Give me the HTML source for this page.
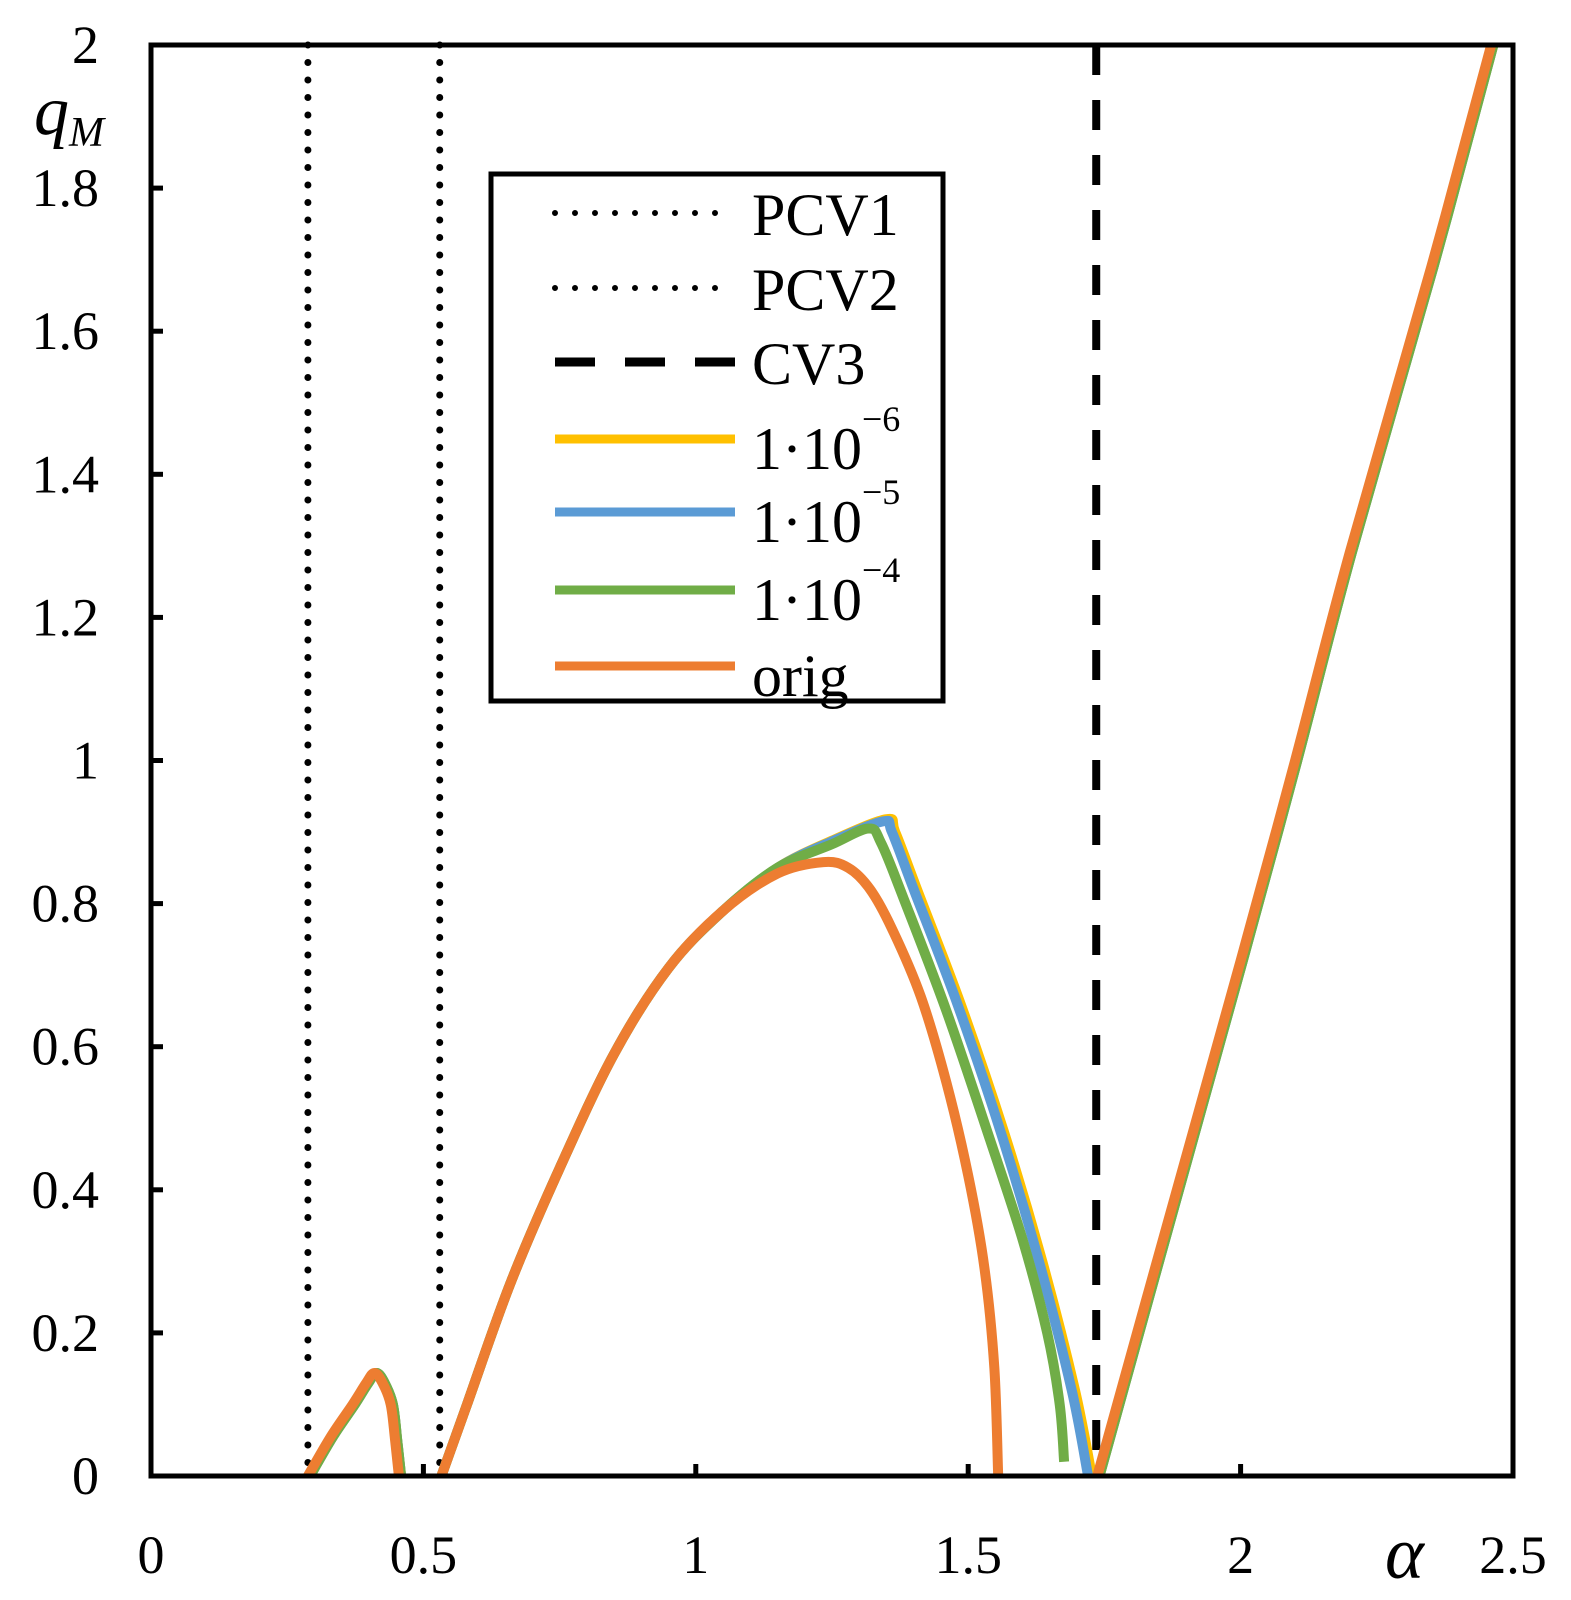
<!DOCTYPE html>
<html><head><meta charset="utf-8"><style>
html,body{margin:0;padding:0;background:#fff;}
svg{display:block;font-family:"Liberation Serif",serif;}
</style></head><body>
<svg id="chart" width="1571" height="1600" viewBox="0 0 1571 1600" xmlns="http://www.w3.org/2000/svg">
<g id="marks"></g>
<g id="axes"></g>
<g id="legend"></g>
</svg>
<script>
const xTicks = [0, 0.5, 1, 1.5, 2, 2.5];
const xTickLabels = ["0", "0.5", "1", "1.5", "2", "2.5"];
const yTicks = [0, 0.2, 0.4, 0.6, 0.8, 1, 1.2, 1.4, 1.6, 1.8, 2];
const yTickLabels = ["0", "0.2", "0.4", "0.6", "0.8", "1", "1.2", "1.4", "1.6", "1.8", "2"];
const vLineNames = ["PCV1", "PCV2", "CV3"];
const vLineX = [0.288, 0.53, 1.735];
// shared branches
const smallA = [0.288, 0.33, 0.37, 0.395, 0.41, 0.425, 0.44, 0.448, 0.455];
const smallQ = [0, 0.055, 0.1, 0.13, 0.144, 0.13, 0.1, 0.05, 0];
const rightA = [1.737, 1.85, 2.0, 2.1, 2.2, 2.35, 2.46];
const rightQ = [0, 0.31, 0.72, 1.0, 1.29, 1.69, 2.0];
// middle branches
const origA = [0.533, 0.58, 0.66, 0.75, 0.85, 0.95, 1.05, 1.15, 1.234, 1.28, 1.32, 1.36, 1.413, 1.46, 1.5, 1.53, 1.548, 1.555];
const origQ = [0, 0.1, 0.27, 0.43, 0.59, 0.71, 0.79, 0.842, 0.858, 0.85, 0.82, 0.765, 0.67, 0.55, 0.42, 0.29, 0.15, 0];
const e4A = [0.533, 0.58, 0.66, 0.75, 0.85, 0.95, 1.05, 1.15, 1.25, 1.317, 1.34, 1.38, 1.46, 1.54, 1.6, 1.645, 1.668, 1.676];
const e4Q = [0, 0.1, 0.27, 0.43, 0.59, 0.71, 0.79, 0.85, 0.883, 0.905, 0.885, 0.81, 0.65, 0.47, 0.33, 0.2, 0.1, 0.02];
const e5A = [0.533, 0.58, 0.66, 0.75, 0.85, 0.95, 1.05, 1.15, 1.25, 1.344, 1.36, 1.4, 1.48, 1.56, 1.63, 1.69, 1.72];
const e5Q = [0, 0.1, 0.27, 0.43, 0.59, 0.71, 0.79, 0.85, 0.887, 0.915, 0.9, 0.82, 0.66, 0.48, 0.3, 0.12, 0];
const e6A = [0.533, 0.58, 0.66, 0.75, 0.85, 0.95, 1.05, 1.15, 1.25, 1.35, 1.366, 1.406, 1.486, 1.566, 1.636, 1.696, 1.727];
const e6Q = [0, 0.1, 0.27, 0.43, 0.59, 0.71, 0.79, 0.85, 0.888, 0.918, 0.9, 0.82, 0.66, 0.48, 0.3, 0.12, 0];
const legendLabels = ["PCV1", "PCV2", "CV3", "1·10", "1·10", "1·10", "orig"];
const legendExp = ["", "", "", "−6", "−5", "−4", ""];

const L = 151, R = 1513, T = 45, B = 1476;
const sx = a => L + (a - 0) / 2.5 * (R - L);
const sy = q => B - q / 2 * (B - T);
const NS = "http://www.w3.org/2000/svg";
function mk(tag, attrs, parent) { const e = document.createElementNS(NS, tag); for (const k in attrs) e.setAttribute(k, attrs[k]); parent.appendChild(e); return e; }
const marks = document.getElementById('marks'), axes = document.getElementById('axes'), legend = document.getElementById('legend');
function pathD(A, Q) {
  const P = A.map((a, i) => [sx(a), sy(Q[i])]);
  let d = 'M' + P[0][0].toFixed(1) + ',' + P[0][1].toFixed(1);
  for (let i = 0; i < P.length - 1; i++) {
    const p0 = P[Math.max(0, i - 1)], p1 = P[i], p2 = P[i + 1], p3 = P[Math.min(P.length - 1, i + 2)];
    const c1 = [p1[0] + (p2[0] - p0[0]) / 6, p1[1] + (p2[1] - p0[1]) / 6];
    const c2 = [p2[0] - (p3[0] - p1[0]) / 6, p2[1] - (p3[1] - p1[1]) / 6];
    d += ' C' + c1.map(v => v.toFixed(1)).join(',') + ' ' + c2.map(v => v.toFixed(1)).join(',') + ' ' + p2.map(v => v.toFixed(1)).join(',');
  }
  return d;
}

vLineX.forEach((v, i) => {
  const dash = i < 2 ? {"stroke-dasharray": "0 17.5", "stroke-width": 7} : {"stroke-dasharray": "30 25", "stroke-width": 8};
  const ln = mk('line', Object.assign({x1: sx(v), x2: sx(v), y1: T, y2: B, stroke: '#000', 'stroke-linecap': i < 2 ? 'round' : 'butt'}, dash), marks);
  
  
});

const series = [
  {name: 'series-1e-6', color: '#FFC000', A: e6A, Q: e6Q},
  {name: 'series-1e-5', color: '#5B9BD5', A: e5A, Q: e5Q},
  {name: 'series-1e-4', color: '#70AD47', A: e4A, Q: e4Q},
  {name: 'series-orig', color: '#ED7D31', A: origA, Q: origQ}
];
series.forEach((s, si) => {
  const g = mk('g', {}, marks);
  
  
  const off = si === 3 ? 0 : 0.004;
  [[smallA, smallQ], [s.A, s.Q], [rightA, rightQ]].forEach((p, k) => {
    const A = k === 1 ? p[0] : p[0].map(a => a + off);
    const pl = mk('path', {d: pathD(A, p[1]), fill: 'none', stroke: s.color, 'stroke-width': 10, 'stroke-linejoin': 'round'}, g);
    
    
  });
});

const fr = mk('rect', {x: L, y: T, width: R - L, height: B - T, fill: 'none', stroke: '#000', 'stroke-width': 5}, axes);


xTicks.forEach((v, i) => {
  const t = mk('line', {x1: sx(v), x2: sx(v), y1: B, y2: B - 12, stroke: '#000', 'stroke-width': 5}, axes);
  
  
  const tx = mk('text', {x: sx(v), y: 1573, 'font-size': 54, 'text-anchor': 'middle'}, axes);
  tx.textContent = xTickLabels[i];
  
  
});
yTicks.forEach((v, i) => {
  const t = mk('line', {x1: L, x2: L + 12, y1: sy(v), y2: sy(v), stroke: '#000', 'stroke-width': 5}, axes);
  
  
  const tx = mk('text', {x: 99, y: sy(v) + 18, 'font-size': 54, 'text-anchor': 'end'}, axes);
  tx.textContent = yTickLabels[i];
  
  
});
const yt = mk('text', {x: 34, y: 134, 'font-size': 70, 'font-style': 'italic'}, axes);
yt.innerHTML = 'q<tspan font-size="42" dy="12">M</tspan>';


const xt = mk('text', {x: 1385, y: 1578, 'font-size': 74, 'font-style': 'italic'}, axes);
xt.textContent = 'α';



const lb = mk('rect', {x: 491, y: 174, width: 452, height: 527, fill: '#fff', stroke: '#000', 'stroke-width': 5}, legend);


const legY = [213, 288, 362, 439, 512, 590, 666];
const legStyle = [
  {stroke: '#000', 'stroke-width': 6, 'stroke-dasharray': '0 20', 'stroke-linecap': 'round'},
  {stroke: '#000', 'stroke-width': 6, 'stroke-dasharray': '0 20', 'stroke-linecap': 'round'},
  {stroke: '#000', 'stroke-width': 9, 'stroke-dasharray': '40 30'},
  {stroke: '#FFC000', 'stroke-width': 9}, {stroke: '#5B9BD5', 'stroke-width': 9},
  {stroke: '#70AD47', 'stroke-width': 9}, {stroke: '#ED7D31', 'stroke-width': 9}
];
legendLabels.forEach((lab, i) => {
  const g = mk('g', {}, legend);
  
  
  mk('line', Object.assign({x1: 555, x2: 735, y1: legY[i], y2: legY[i]}, legStyle[i]), g);
  const tx = mk('text', {x: 752, y: legY[i] + (i >= 3 ? 30 : 22), 'font-size': 60}, g);
  tx.textContent = lab;
  if (legendExp[i]) { const ts = mk('tspan', {'font-size': 36, dy: -38}, tx); ts.textContent = legendExp[i]; }
});
</script>
</body></html>
